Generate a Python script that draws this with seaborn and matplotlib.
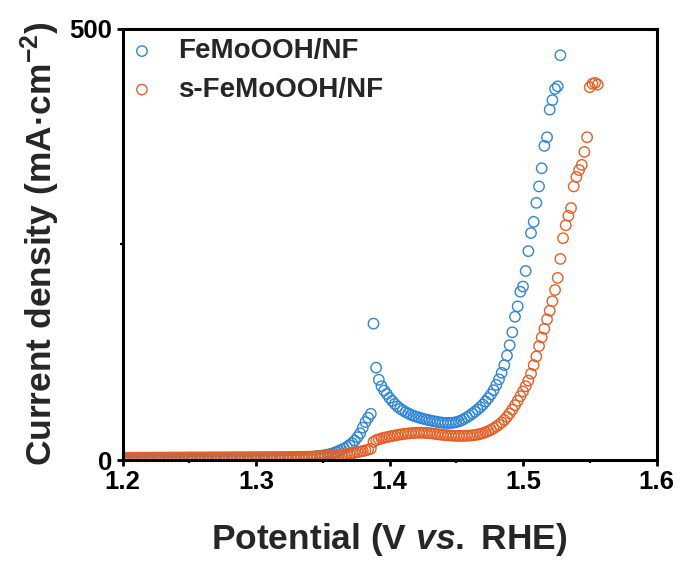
import matplotlib
matplotlib.use("Agg")
import matplotlib.pyplot as plt
import seaborn as sns
import pandas as pd
from matplotlib.ticker import MultipleLocator, FixedLocator

# LSV sweep: potential (V vs. RHE) and current density (mA cm^-2)
fe_potential = [
    1.200, 1.202, 1.204, 1.206, 1.208, 1.210, 1.212, 1.214, 1.216, 1.218,
    1.220, 1.222, 1.224, 1.226, 1.228, 1.230, 1.232, 1.234, 1.236, 1.238,
    1.240, 1.242, 1.244, 1.246, 1.248, 1.250, 1.252, 1.254, 1.256, 1.258,
    1.260, 1.262, 1.264, 1.266, 1.268, 1.270, 1.272, 1.274, 1.276, 1.278,
    1.280, 1.282, 1.284, 1.286, 1.288, 1.290, 1.292, 1.294, 1.296, 1.298,
    1.300, 1.302, 1.304, 1.306, 1.308, 1.310, 1.312, 1.314, 1.316, 1.318,
    1.320, 1.322, 1.324, 1.326, 1.328, 1.330, 1.332, 1.334, 1.336, 1.338,
    1.340, 1.342, 1.344, 1.346, 1.348, 1.350, 1.352, 1.354, 1.356, 1.358,
    1.360, 1.362, 1.364, 1.366, 1.368, 1.370, 1.372, 1.374, 1.376, 1.378,
    1.380, 1.382, 1.384, 1.386, 1.388, 1.390, 1.392, 1.394, 1.396, 1.398,
    1.400, 1.402, 1.404, 1.406, 1.408, 1.410, 1.412, 1.414, 1.416, 1.418,
    1.420, 1.422, 1.424, 1.426, 1.428, 1.430, 1.432, 1.434, 1.436, 1.438,
    1.440, 1.442, 1.444, 1.446, 1.448, 1.450, 1.452, 1.454, 1.456, 1.458,
    1.460, 1.462, 1.464, 1.466, 1.468, 1.470, 1.472, 1.474, 1.476, 1.478,
    1.480, 1.482, 1.484, 1.486, 1.488, 1.490, 1.492, 1.494, 1.496, 1.498,
    1.500, 1.502, 1.504, 1.506, 1.508, 1.510, 1.512, 1.514, 1.516, 1.518,
    1.520, 1.522, 1.524, 1.526, 1.528,
]
fe_current = [
    0.4, 0.4, 0.5, 0.5, 0.5, 0.5, 0.6, 0.6, 0.6, 0.6,
    0.6, 0.7, 0.7, 0.7, 0.7, 0.7, 0.8, 0.8, 0.8, 0.8,
    0.8, 0.8, 0.9, 0.9, 0.9, 0.9, 0.9, 1.0, 1.0, 1.0,
    1.0, 1.0, 1.1, 1.1, 1.1, 1.1, 1.2, 1.2, 1.2, 1.2,
    1.3, 1.3, 1.3, 1.4, 1.4, 1.4, 1.5, 1.5, 1.6, 1.6,
    1.7, 1.7, 1.8, 1.8, 1.9, 2.0, 2.0, 2.1, 2.2, 2.3,
    2.4, 2.5, 2.6, 2.7, 2.8, 3.0, 3.1, 3.3, 3.4, 3.6,
    3.5, 3.8, 4.1, 4.4, 4.8, 5.2, 5.7, 6.3, 7.0, 8.0,
    9.3, 10.5, 11.9, 13.4, 15.2, 17.2, 19.5, 22.5, 26.5, 31.0,
    37.5, 44.0, 49.0, 53.5, 158.0, 107.0, 93.0, 85.5, 80.5, 76.5,
    72.0, 68.5, 65.0, 62.0, 59.5, 57.5, 55.5, 54.0, 52.5, 51.3,
    50.2, 49.2, 48.3, 47.5, 46.7, 46.0, 45.3, 44.7, 44.1, 43.6,
    43.2, 43.0, 42.9, 43.0, 43.3, 43.9, 44.8, 46.0, 47.6, 49.5,
    51.5, 53.7, 56.0, 58.5, 61.2, 64.3, 67.8, 71.7, 76.0, 81.0,
    87.0, 93.5, 101.0, 110.0, 121.0, 133.0, 148.0, 166.0, 178.0, 195.0,
    201.0, 219.0, 242.0, 263.0, 276.0, 298.0, 317.0, 338.0, 364.0, 374.0,
    406.0, 417.0, 430.0, 433.0, 469.0,
]

sfe_potential = [
    1.200, 1.202, 1.204, 1.206, 1.208, 1.210, 1.212, 1.214, 1.216, 1.218,
    1.220, 1.222, 1.224, 1.226, 1.228, 1.230, 1.232, 1.234, 1.236, 1.238,
    1.240, 1.242, 1.244, 1.246, 1.248, 1.250, 1.252, 1.254, 1.256, 1.258,
    1.260, 1.262, 1.264, 1.266, 1.268, 1.270, 1.272, 1.274, 1.276, 1.278,
    1.280, 1.282, 1.284, 1.286, 1.288, 1.290, 1.292, 1.294, 1.296, 1.298,
    1.300, 1.302, 1.304, 1.306, 1.308, 1.310, 1.312, 1.314, 1.316, 1.318,
    1.320, 1.322, 1.324, 1.326, 1.328, 1.330, 1.332, 1.334, 1.336, 1.338,
    1.340, 1.342, 1.344, 1.346, 1.348, 1.350, 1.352, 1.354, 1.356, 1.358,
    1.360, 1.362, 1.364, 1.366, 1.368, 1.370, 1.372, 1.374, 1.376, 1.378,
    1.380, 1.382, 1.384, 1.386, 1.388, 1.390, 1.392, 1.394, 1.396, 1.398,
    1.400, 1.402, 1.404, 1.406, 1.408, 1.410, 1.412, 1.414, 1.416, 1.418,
    1.420, 1.422, 1.424, 1.426, 1.428, 1.430, 1.432, 1.434, 1.436, 1.438,
    1.440, 1.442, 1.444, 1.446, 1.448, 1.450, 1.452, 1.454, 1.456, 1.458,
    1.460, 1.462, 1.464, 1.466, 1.468, 1.470, 1.472, 1.474, 1.476, 1.478,
    1.480, 1.482, 1.484, 1.486, 1.488, 1.490, 1.492, 1.494, 1.496, 1.498,
    1.500, 1.502, 1.504, 1.506, 1.508, 1.510, 1.512, 1.514, 1.516, 1.518,
    1.520, 1.522, 1.524, 1.526, 1.528, 1.530, 1.532, 1.534, 1.536, 1.538,
    1.540, 1.542, 1.544, 1.546, 1.548, 1.550, 1.552, 1.554, 1.556,
]
sfe_current = [
    2.6, 2.6, 2.6, 2.6, 2.7, 2.7, 2.7, 2.7, 2.7, 2.7,
    2.7, 2.8, 2.8, 2.8, 2.8, 2.8, 2.8, 2.8, 2.9, 2.9,
    2.9, 2.9, 2.9, 2.9, 2.9, 3.0, 3.0, 3.0, 3.0, 3.0,
    3.0, 3.0, 3.0, 3.1, 3.1, 3.1, 3.1, 3.1, 3.1, 3.1,
    3.1, 3.2, 3.2, 3.2, 3.2, 3.2, 3.2, 3.2, 3.3, 3.3,
    3.3, 3.3, 3.3, 3.3, 3.4, 3.4, 3.4, 3.4, 3.4, 3.5,
    3.5, 3.5, 3.5, 3.6, 3.6, 3.6, 3.7, 3.7, 3.7, 3.8,
    3.8, 3.9, 4.0, 4.1, 4.2, 4.3, 4.5, 4.7, 4.9, 5.1,
    5.4, 5.7, 6.0, 6.4, 6.8, 7.3, 7.8, 8.4, 9.0, 9.7,
    10.4, 11.1, 12.0, 13.0, 21.0, 23.0, 24.0, 25.0, 25.8, 26.5,
    27.2, 27.8, 28.4, 29.0, 29.5, 30.0, 30.4, 30.8, 31.1, 31.3,
    31.5, 31.6, 31.6, 31.5, 31.3, 31.0, 30.7, 30.3, 29.9, 29.5,
    29.1, 28.8, 28.5, 28.3, 28.1, 28.0, 27.9, 27.9, 28.0, 28.1,
    28.3, 28.6, 29.0, 29.5, 30.2, 31.0, 32.2, 33.5, 35.0, 36.8,
    38.8, 41.0, 43.5, 46.5, 50.0, 54.0, 58.5, 63.5, 68.5, 74.0,
    79.5, 85.5, 92.0, 100.0, 110.0, 120.0, 132.0, 142.0, 152.0, 163.0,
    173.0, 184.0, 197.0, 211.0, 233.0, 257.0, 272.0, 283.0, 292.0, 317.0,
    328.0, 336.0, 342.0, 357.0, 374.0, 432.0, 436.0, 437.0, 435.0,
]

sample_names = ["FeMoOOH/NF", "s-FeMoOOH/NF"]
sample_colors = ["#2F85D6", "#E65F27"]
x_ticks = [1.2, 1.3, 1.4, 1.5, 1.6]
y_ticks = [0, 500]

sns.set_theme(style="ticks")
plt.rcParams["font.family"] = ["Liberation Sans", "DejaVu Sans"]
plt.rcParams["font.weight"] = "bold"
plt.rcParams["mathtext.fontset"] = "custom"
plt.rcParams["mathtext.rm"] = "Liberation Sans:bold"
plt.rcParams["mathtext.bf"] = "Liberation Sans:bold"
plt.rcParams["mathtext.it"] = "Liberation Sans:italic:bold"
plt.rcParams["mathtext.default"] = "rm"

fig = plt.figure(figsize=(6.81, 5.61), dpi=100)
ax = fig.add_axes([122.5 / 681, 1 - 460 / 561, 534 / 681, 431.5 / 561])

series = [
    pd.DataFrame({"potential": fe_potential, "current": fe_current}),
    pd.DataFrame({"potential": sfe_potential, "current": sfe_current}),
]
for df, name, col in zip(series, sample_names, sample_colors):
    sns.scatterplot(data=df, x="potential", y="current", ax=ax,
                    marker="o", s=56, color=col, facecolors="none",
                    edgecolor=col, linewidth=1.0, label=name)

ax.set_xlim(1.2, 1.6)
ax.set_ylim(0, 500)
ax.xaxis.set_major_locator(FixedLocator(x_ticks))
ax.xaxis.set_minor_locator(MultipleLocator(0.05))
ax.yaxis.set_major_locator(FixedLocator(y_ticks))
ax.yaxis.set_minor_locator(FixedLocator([250]))
ax.set_xticklabels([f"{v:.1f}" for v in x_ticks])
ax.set_yticklabels([str(v) for v in y_ticks])

for sp in ax.spines.values():
    sp.set_linewidth(2.2)
    sp.set_color("black")
ax.tick_params(which="major", direction="out", length=4.5, width=2.0,
               labelsize=18.5, pad=3, top=False, right=False, colors="black")
ax.tick_params(which="minor", direction="out", length=2.5, width=1.6,
               top=False, right=False, colors="black")
for lab in ax.get_xticklabels() + ax.get_yticklabels():
    lab.set_fontweight("bold")

ax.set_xlabel(r"Potential (V $\it{vs.}$ RHE)", fontsize=25.5,
              fontweight="bold", labelpad=19)
ax.set_ylabel(r"Current density (mA·cm$^{-2}$)", fontsize=25.5,
              fontweight="bold", labelpad=5)

ax.legend(loc="upper left", bbox_to_anchor=(0.0, 0.99), frameon=False,
          prop={"weight": "bold", "size": 20}, handlelength=1.0,
          handletextpad=0.8, labelspacing=0.45, borderpad=0.2,
          borderaxespad=0.0, markerscale=1.0)

fig.savefig("out.png", dpi=100)
